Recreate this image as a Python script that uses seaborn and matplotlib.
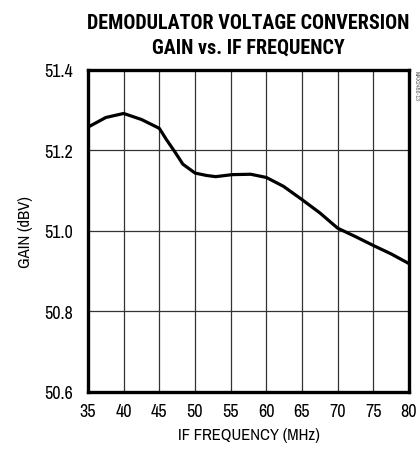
import matplotlib
matplotlib.use("Agg")
import matplotlib.pyplot as plt
import seaborn as sns
import pandas as pd

freq_mhz = [35, 37.5, 40, 42.5, 45, 46, 47.2, 48.3, 50, 51.6, 52.9, 55.2, 57.8, 60, 62.4, 65, 67.5, 70, 72.5, 75, 77.5, 80]
gain_dbv = [51.258, 51.282, 51.292, 51.277, 51.255, 51.227, 51.196, 51.166, 51.144, 51.138, 51.135, 51.140, 51.141, 51.133, 51.111, 51.078, 51.045, 51.007, 50.986, 50.964, 50.943, 50.919]
x_ticks = [35, 40, 45, 50, 55, 60, 65, 70, 75, 80]
y_ticks = [50.6, 50.8, 51.0, 51.2, 51.4]

sns.set_theme(style="white")
plt.rcParams['font.family'] = ['Archivo Narrow', 'PT Sans Narrow', 'DejaVu Sans']

df = pd.DataFrame({"freq": freq_mhz, "gain": gain_dbv})

fig = plt.figure(figsize=(4.2, 4.56), dpi=100)
ax = fig.add_axes([0.2095, 0.1382, 0.7643, 0.7061])
sns.lineplot(data=df, x="freq", y="gain", ax=ax, color="black", linewidth=2.3)
ax.lines[0].set_solid_joinstyle("round")

ax.set_xlim(35, 80)
ax.set_ylim(50.6, 51.4)
ax.set_xticks(x_ticks)
ax.set_yticks(y_ticks)
ax.set_xticklabels([str(v) for v in x_ticks])
ax.set_yticklabels([f"{v:.1f}" for v in y_ticks])
ax.grid(True, color="#333333", linewidth=0.9)
ax.tick_params(axis="both", length=0, labelsize=13, colors="black")
ax.tick_params(axis="x", pad=8)
ax.tick_params(axis="y", pad=11)
for s in ax.spines.values():
    s.set_visible(True)
    s.set_color("black")
    s.set_linewidth(2.4)

ax.set_xlabel("IF FREQUENCY (MHz)", fontsize=12, color="black", labelpad=6)
ax.set_ylabel("GAIN (dBV)", fontsize=12, color="black", labelpad=8)

title_font = ['Roboto Condensed', 'DejaVu Sans']
fig.text(0.5905, 0.948, "DEMODULATOR VOLTAGE CONVERSION", ha="center", va="center",
         fontsize=14.5, fontweight="bold", color="black", family=title_font)
fig.text(0.5905, 0.895, "GAIN vs. IF FREQUENCY", ha="center", va="center",
         fontsize=14.5, fontweight="bold", color="black", family=title_font)
fig.text(0.990, 0.845, "MAX2450-13", ha="center", va="top", rotation=270,
         fontsize=4.5, color="#555555")

fig.savefig("out.png", dpi=100)
